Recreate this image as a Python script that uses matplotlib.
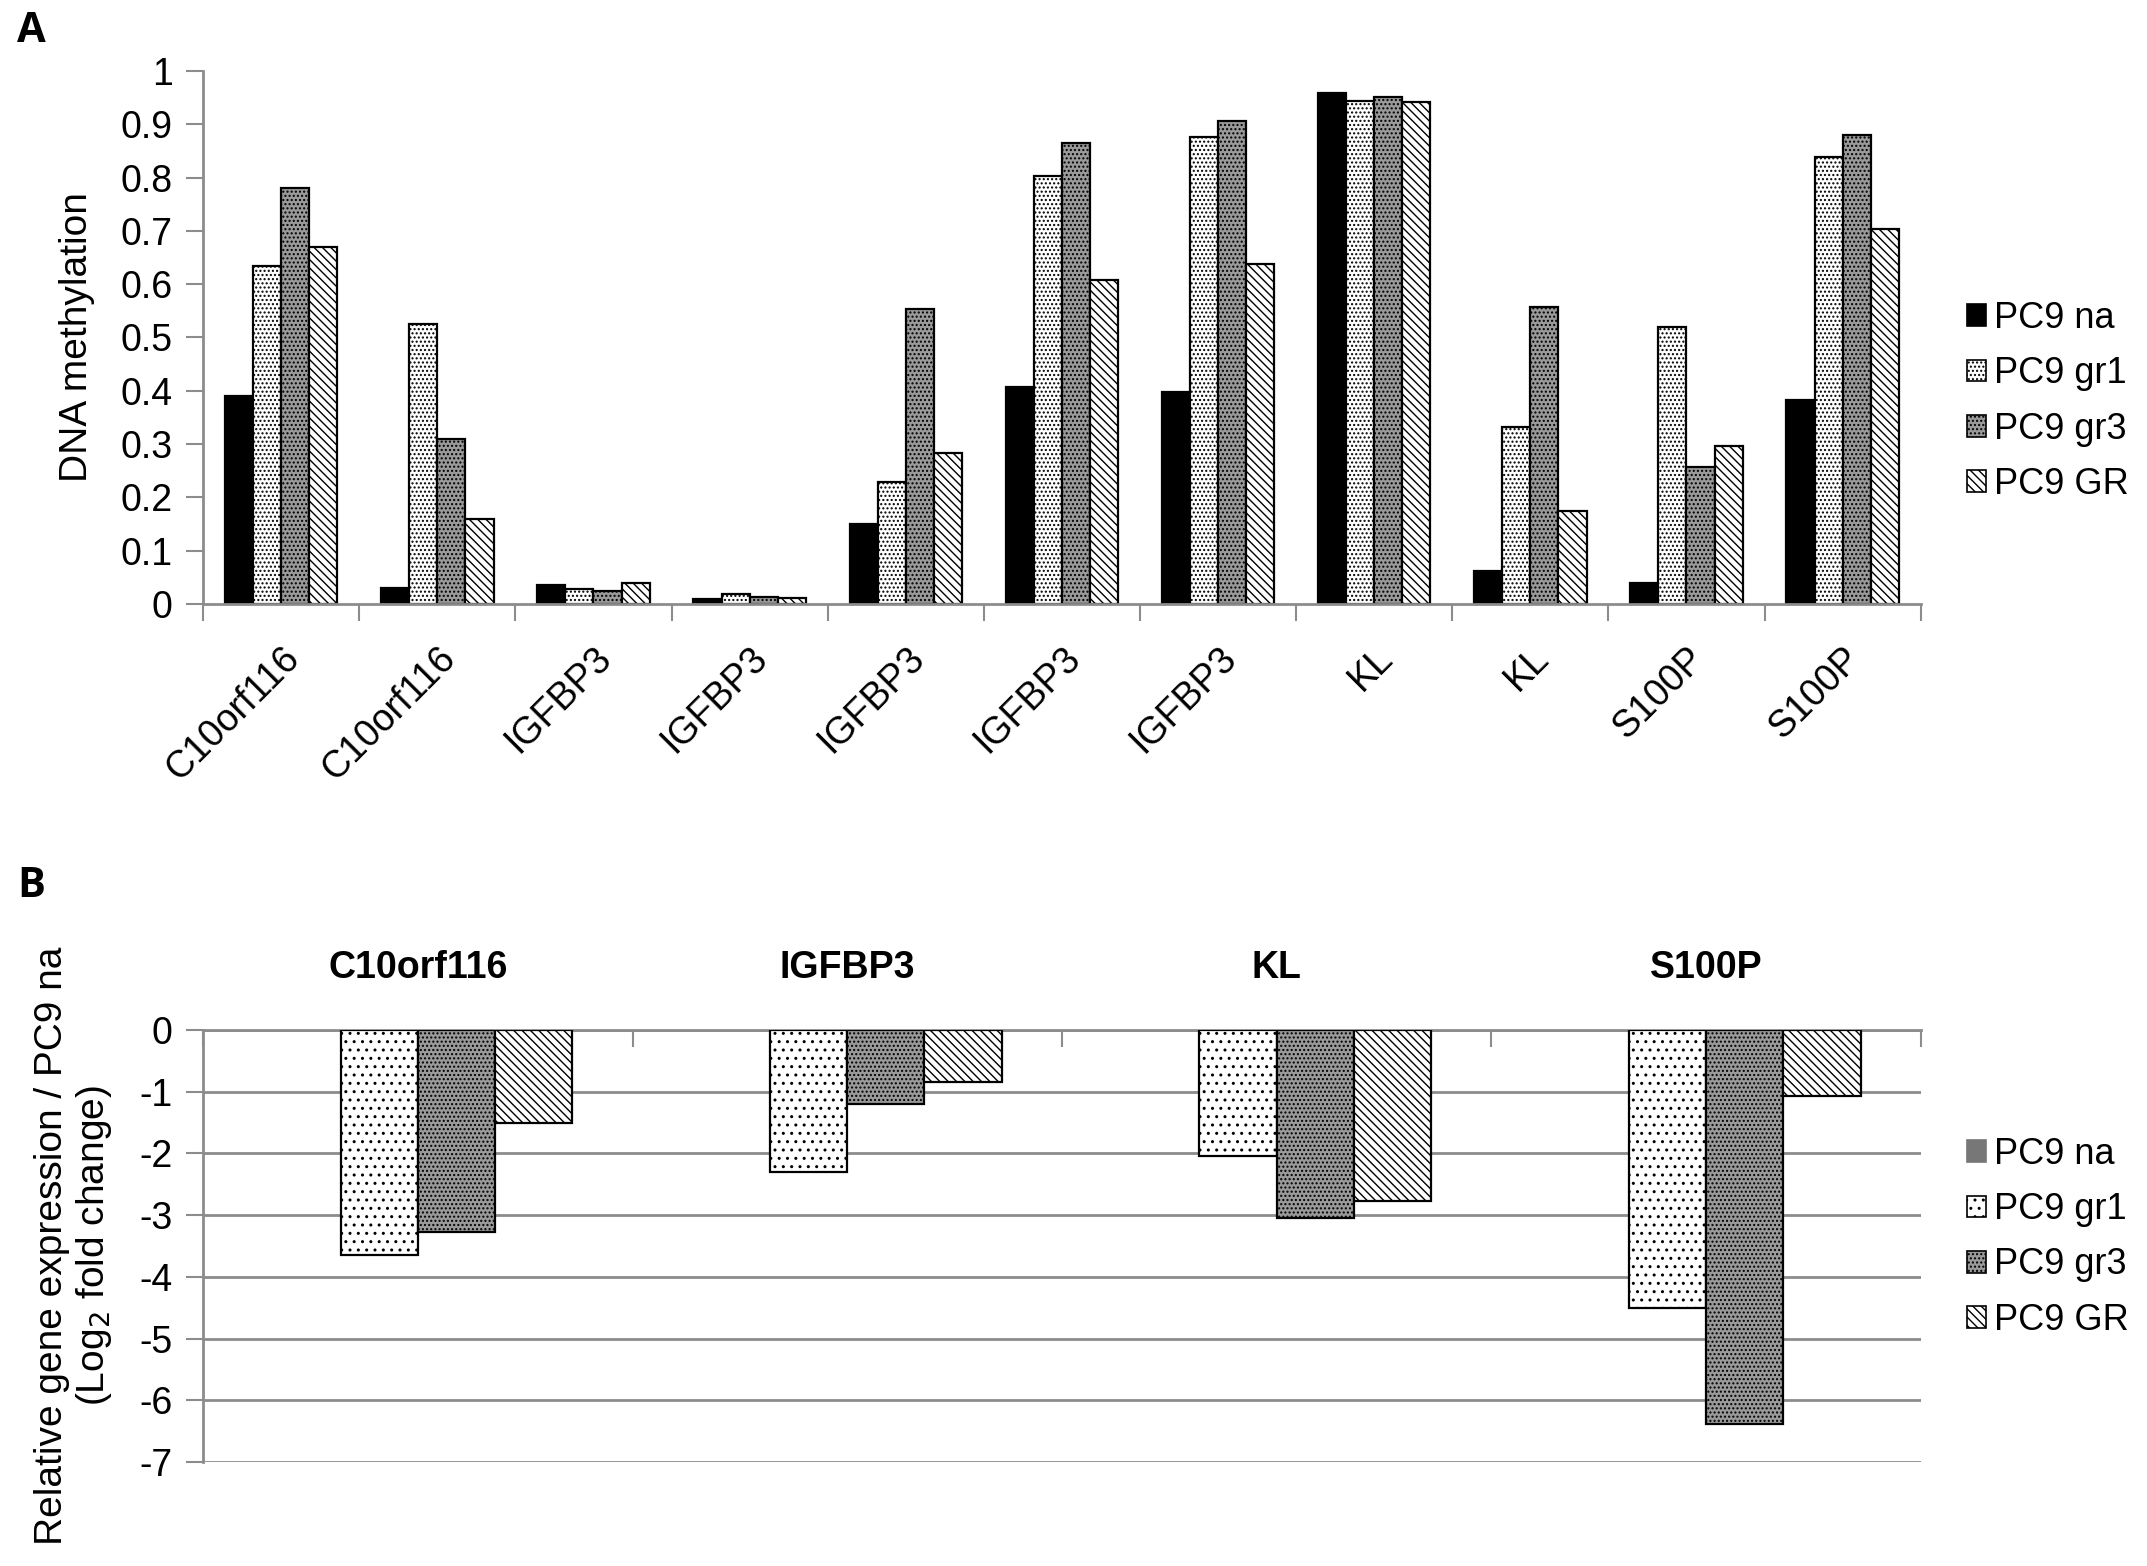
import numpy as np
import matplotlib
matplotlib.use("Agg")
import matplotlib.pyplot as plt
from matplotlib.patches import Patch

plt.rcParams['font.family'] = ['Liberation Sans', 'DejaVu Sans']
plt.rcParams['axes.unicode_minus'] = False
plt.rcParams['hatch.linewidth'] = 1.0

# panel A: DNA methylation
genes_a = ['C10orf116', 'C10orf116', 'IGFBP3', 'IGFBP3', 'IGFBP3', 'IGFBP3',
           'IGFBP3', 'KL', 'KL', 'S100P', 'S100P']
na_a = [0.39, 0.03, 0.035, 0.010, 0.150, 0.407, 0.398, 0.958, 0.062, 0.040, 0.383]
gr1_a = [0.635, 0.525, 0.028, 0.018, 0.228, 0.803, 0.877, 0.944, 0.332, 0.520, 0.838]
gr3_a = [0.780, 0.310, 0.025, 0.013, 0.553, 0.865, 0.907, 0.952, 0.558, 0.257, 0.880]
GR_a = [0.670, 0.160, 0.040, 0.012, 0.283, 0.608, 0.637, 0.942, 0.175, 0.297, 0.703]

# panel B: relative expression (log2 fold change vs PC9 na)
genes_b = ['C10orf116', 'IGFBP3', 'KL', 'S100P']
na_b = [0, 0, 0, 0]
gr1_b = [-3.65, -2.30, -2.05, -4.50]
gr3_b = [-3.28, -1.20, -3.05, -6.38]
GR_b = [-1.50, -0.85, -2.77, -1.07]

series = ['PC9 na', 'PC9 gr1', 'PC9 gr3', 'PC9 GR']
axis_grey = '#8c8c8c'
lab_fs = 27
leg_fs = 26

styles_a = [dict(facecolor='black', hatch=None),
            dict(facecolor='white', hatch='....'),
            dict(facecolor='#9a9a9a', hatch='....'),
            dict(facecolor='white', hatch='\\\\\\\\')]
styles_b = [dict(facecolor='#777777', hatch=None),
            dict(facecolor='white', hatch='..'),
            dict(facecolor='#9a9a9a', hatch='....'),
            dict(facecolor='white', hatch='\\\\\\\\')]

fig = plt.figure(figsize=(21.47, 15.66), dpi=100)
axA = fig.add_axes([0.0946, 0.6143, 0.80, 0.3404])
axB = fig.add_axes([0.0946, 0.0664, 0.80, 0.2759])

w = 0.18
offs = np.array([-1.5, -0.5, 0.5, 1.5]) * w

# ---- panel A ----
xa = np.arange(len(genes_a)) + 0.5
for vals, st, o in zip([na_a, gr1_a, gr3_a, GR_a], styles_a, offs):
    axA.bar(xa + o, vals, w, edgecolor='black', linewidth=1.6, **st)
axA.set_xlim(0, len(genes_a))
axA.set_ylim(0, 1)
axA.set_yticks(np.arange(0, 1.01, 0.1))
axA.set_yticklabels(['0', '0.1', '0.2', '0.3', '0.4', '0.5', '0.6', '0.7', '0.8', '0.9', '1'])
axA.set_xticks(np.arange(len(genes_a) + 1))
axA.set_xticklabels([])
axA.set_xticks(xa, minor=True)
axA.set_xticklabels(genes_a, minor=True, rotation=45, ha='right',
                    rotation_mode='anchor', fontsize=lab_fs)
axA.tick_params(axis='x', which='minor', length=0, pad=26)
axA.tick_params(axis='x', which='major', length=12, width=1.5, color=axis_grey)
axA.tick_params(axis='y', length=12, width=1.5, color=axis_grey, labelsize=lab_fs, pad=10)
for s in ['top', 'right']:
    axA.spines[s].set_visible(False)
for s in ['left', 'bottom']:
    axA.spines[s].set_color(axis_grey)
    axA.spines[s].set_linewidth(2)
axA.set_ylabel('DNA methylation', fontsize=lab_fs + 1, labelpad=18)
handles_a = [Patch(edgecolor='black', linewidth=1.2, label=lab, **st)
             for lab, st in zip(series, styles_a)]
axA.legend(handles=handles_a, loc='center left', bbox_to_anchor=(1.012, 0.38),
           borderaxespad=0.3, frameon=False, fontsize=leg_fs, handlelength=0.55,
           handleheight=0.55, handletextpad=0.2, labelspacing=0.56)

# ---- panel B ----
xb = np.arange(len(genes_b)) + 0.5
for i, (vals, st, o) in enumerate(zip([na_b, gr1_b, gr3_b, GR_b], styles_b, offs)):
    axB.bar(xb + o, vals, w, edgecolor='black' if i else 'none', linewidth=1.6,
            zorder=3, **st)
axB.set_xlim(0, len(genes_b))
axB.set_ylim(-7, 0)
axB.set_yticks(np.arange(-7, 1, 1))
axB.yaxis.grid(True, color=axis_grey, linewidth=2, zorder=0)
axB.set_axisbelow(True)
axB.xaxis.tick_top()
axB.set_xticks(np.arange(len(genes_b) + 1))
axB.set_xticklabels([])
axB.set_xticks(xb, minor=True)
axB.set_xticklabels(genes_b, minor=True, fontsize=lab_fs, fontweight='bold')
axB.tick_params(axis='x', which='minor', length=0, pad=32, top=True, labeltop=True)
axB.tick_params(axis='x', which='major', direction='in', length=12, width=1.5,
                color=axis_grey)
axB.tick_params(axis='y', length=12, width=1.5, color=axis_grey, labelsize=lab_fs, pad=10)
for s in ['bottom', 'right']:
    axB.spines[s].set_visible(False)
for s in ['left', 'top']:
    axB.spines[s].set_color(axis_grey)
    axB.spines[s].set_linewidth(2)
axB.set_ylabel('Relative gene expression / PC9 na\n(Log$_2$ fold change)',
               fontsize=lab_fs + 1, labelpad=18, linespacing=1.15)
handles_b = [Patch(edgecolor='black' if i else '#777777', linewidth=1.2, label=lab, **st)
             for i, (lab, st) in enumerate(zip(series, styles_b))]
axB.legend(handles=handles_b, loc='center left', bbox_to_anchor=(1.012, 0.52),
           borderaxespad=0.3, frameon=False, fontsize=leg_fs, handlelength=0.55,
           handleheight=0.55, handletextpad=0.2, labelspacing=0.56)

fig.text(0.008, 0.993, 'A', fontsize=30, fontweight='bold', va='top',
         family=['Open Sans', 'DejaVu Sans'])
fig.text(0.008, 0.447, 'B', fontsize=30, fontweight='bold', va='top',
         family=['Open Sans', 'DejaVu Sans'])

fig.savefig('out.png', dpi=100)
